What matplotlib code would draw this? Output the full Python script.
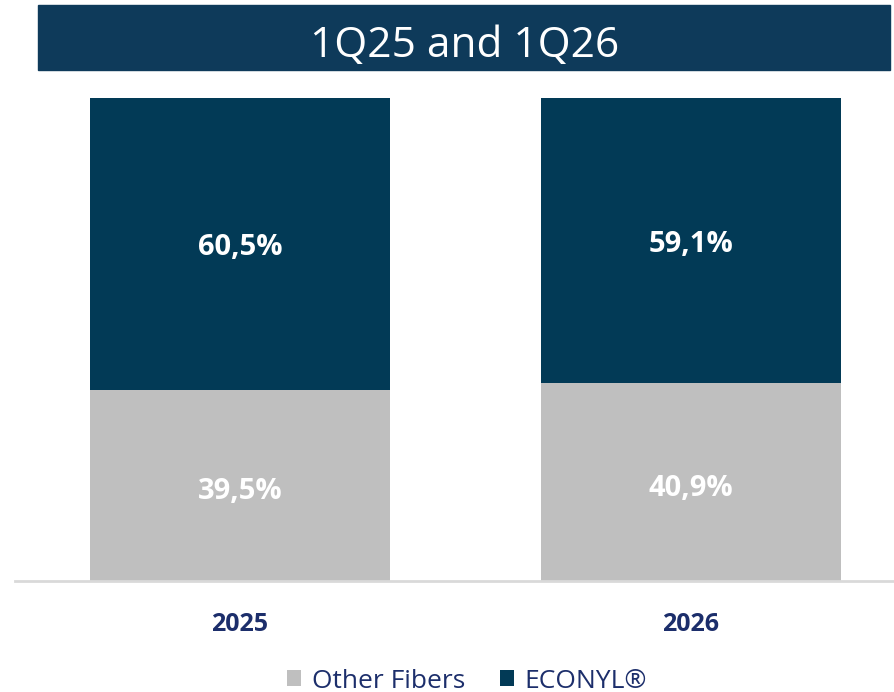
import matplotlib.pyplot as plt
from matplotlib.patches import Rectangle

years = ['2025', '2026']
other_fibers = [39.5, 40.9]
econyl = [60.5, 59.1]
series_names = ['Other Fibers', 'ECONYL®']
title = '1Q25 and 1Q26'

navy = '#023a56'
gray = '#bfbfbf'
banner = '#0e3a5a'
label_col = '#1c2e6b'

plt.rcParams['font.family'] = ['Open Sans', 'DejaVu Sans']

fig = plt.figure(figsize=(8.95, 6.92), dpi=100)

# title banner
fig.patches.append(Rectangle((38 / 895, 1 - 70 / 692), 852 / 895, 65 / 692,
                             transform=fig.transFigure, color=banner, zorder=0))
fig.text(465 / 895, 1 - 46 / 692, title, color='white', fontsize=30.5,
         ha='center', va='center')

ax = fig.add_axes([15 / 895, 111 / 692, 880 / 895, 483 / 692])
x = range(len(years))
w = 300 / 451
b1 = ax.bar(x, other_fibers, w, color=gray, label=series_names[0])
b2 = ax.bar(x, econyl, w, bottom=other_fibers, color=navy, label=series_names[1])

for i in x:
    ax.text(i, other_fibers[i] / 2 - 1.2, f'{other_fibers[i]:.1f}%'.replace('.', ','),
            ha='center', va='center', color='white', fontsize=21, fontweight='bold')
    ax.text(i, other_fibers[i] + econyl[i] / 2 - 0.8, f'{econyl[i]:.1f}%'.replace('.', ','),
            ha='center', va='center', color='white', fontsize=21, fontweight='bold')

ax.set_xlim(-225 / 451, 655 / 451)
ax.set_ylim(0, 100)
ax.set_xticks(list(x))
ax.set_xticklabels(years, fontsize=18, fontweight='bold', color=label_col)
ax.tick_params(axis='x', length=0, pad=22)
ax.set_yticks([])
for s in ['top', 'right', 'left']:
    ax.spines[s].set_visible(False)
ax.spines['bottom'].set_color('#d9d9d9')
ax.spines['bottom'].set_linewidth(2)

fig.legend(handles=[b1, b2], loc='center', bbox_to_anchor=(467 / 895, 11 / 692),
           ncol=2, frameon=False, fontsize=19, handlelength=0.55, handleheight=0.55,
           handletextpad=0.4, columnspacing=1.3, labelcolor=label_col)

fig.savefig('out.png', dpi=100)
